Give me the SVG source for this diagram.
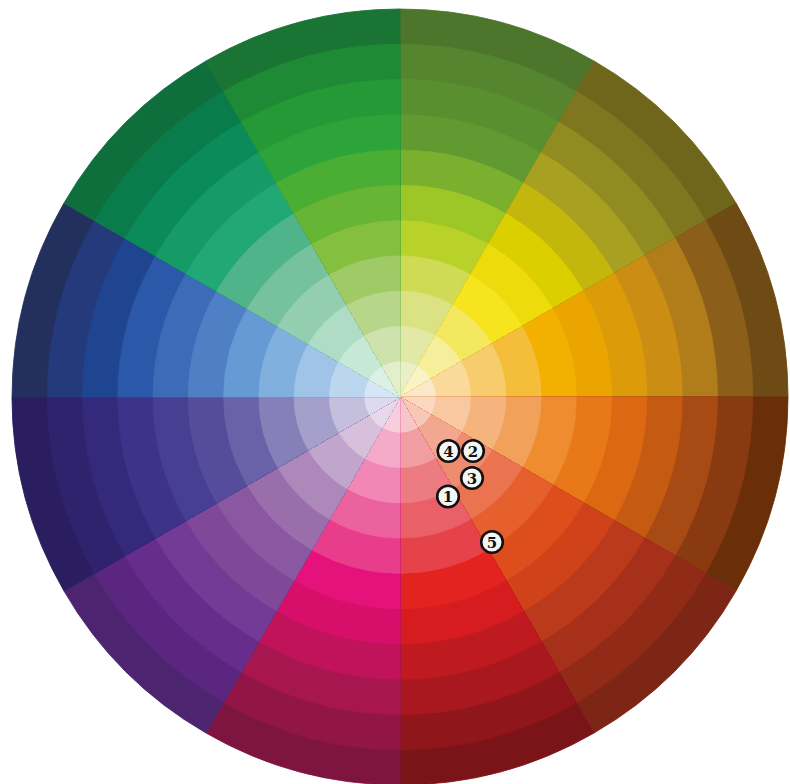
<svg xmlns="http://www.w3.org/2000/svg" xmlns:xlink="http://www.w3.org/1999/xlink" width="790" height="784" viewBox="0 0 790 784">
<style>
.w{fill:currentColor;stroke:currentColor;stroke-width:0.8;stroke-linejoin:round}
.mk circle{fill:#f4f6f4;stroke:#111111;stroke-width:2.6}
.mk text{font-family:"DejaVu Serif","Liberation Serif",serif;font-weight:bold;font-size:15px;fill:#111111;text-anchor:middle;dominant-baseline:central}
</style>
<defs>
<path id="w0" class="w" d="M0 0L0 -35.27A35.27 35.27 0 0 1 17.64 -30.55Z"/>
<path id="w1" class="w" d="M0 0L0 -70.55A70.55 70.55 0 0 1 35.27 -61.10Z"/>
<path id="w2" class="w" d="M0 0L0 -105.82A105.82 105.82 0 0 1 52.91 -91.64Z"/>
<path id="w3" class="w" d="M0 0L0 -141.09A141.09 141.09 0 0 1 70.55 -122.19Z"/>
<path id="w4" class="w" d="M0 0L0 -176.36A176.36 176.36 0 0 1 88.18 -152.74Z"/>
<path id="w5" class="w" d="M0 0L0 -211.64A211.64 211.64 0 0 1 105.82 -183.28Z"/>
<path id="w6" class="w" d="M0 0L0 -246.91A246.91 246.91 0 0 1 123.45 -213.83Z"/>
<path id="w7" class="w" d="M0 0L0 -282.18A282.18 282.18 0 0 1 141.09 -244.38Z"/>
<path id="w8" class="w" d="M0 0L0 -317.45A317.45 317.45 0 0 1 158.73 -274.92Z"/>
<path id="w9" class="w" d="M0 0L0 -352.73A352.73 352.73 0 0 1 176.36 -305.47Z"/>
<path id="w10" class="w" d="M0 0L0 -388A388 388 0 0 1 194 -336.02Z"/>
</defs>
<rect width="790" height="784" fill="#ffffff"/>
<g id="wheel" transform="translate(400,397)">
<g id="s0" transform="rotate(0)">
<use href="#w10" color="#4d752b"/><use href="#w9" color="#55862f"/><use href="#w8" color="#5a8f30"/><use href="#w7" color="#619a30"/><use href="#w6" color="#7bb02e"/><use href="#w5" color="#9cc726"/><use href="#w4" color="#b8d22a"/><use href="#w3" color="#cfdb55"/><use href="#w2" color="#dbe283"/><use href="#w1" color="#e2e8a5"/><use href="#w0" color="#e9efc8"/>
</g>
<g id="s1" transform="rotate(30)">
<use href="#w10" color="#6f661b"/><use href="#w9" color="#7f7620"/><use href="#w8" color="#918b22"/><use href="#w7" color="#a8a020"/><use href="#w6" color="#c3b70e"/><use href="#w5" color="#dccf00"/><use href="#w4" color="#eedb0c"/><use href="#w3" color="#f5e41e"/><use href="#w2" color="#f4e860"/><use href="#w1" color="#f6ee9a"/><use href="#w0" color="#faf3c6"/>
</g>
<g id="s2" transform="rotate(60)">
<use href="#w10" color="#6e4a14"/><use href="#w9" color="#8b5e1a"/><use href="#w8" color="#b07d1a"/><use href="#w7" color="#cc8d14"/><use href="#w6" color="#dc9c0a"/><use href="#w5" color="#eaa500"/><use href="#w4" color="#f2b000"/><use href="#w3" color="#f5be3a"/><use href="#w2" color="#f7cc6c"/><use href="#w1" color="#f9da9a"/><use href="#w0" color="#fbe8c8"/>
</g>
<g id="s3" transform="rotate(90)">
<use href="#w10" color="#6a2e08"/><use href="#w9" color="#8a3a10"/><use href="#w8" color="#a84a14"/><use href="#w7" color="#c55a12"/><use href="#w6" color="#dc6812"/><use href="#w5" color="#e87818"/><use href="#w4" color="#ef8c30"/><use href="#w3" color="#f2a15a"/><use href="#w2" color="#f5b47e"/><use href="#w1" color="#f8c8a0"/><use href="#w0" color="#fad8c2"/>
</g>
<g id="s4" transform="rotate(120)">
<use href="#w10" color="#7d2616"/><use href="#w9" color="#912b17"/><use href="#w8" color="#a6301a"/><use href="#w7" color="#bb3a1c"/><use href="#w6" color="#cf421a"/><use href="#w5" color="#de4e1c"/><use href="#w4" color="#e5602c"/><use href="#w3" color="#ea7450"/><use href="#w2" color="#ee8c70"/><use href="#w1" color="#f2a890"/><use href="#w0" color="#f7c8b8"/>
</g>
<g id="s5" transform="rotate(150)">
<use href="#w10" color="#7a1418"/><use href="#w9" color="#8f161b"/><use href="#w8" color="#a8181e"/><use href="#w7" color="#bf1a20"/><use href="#w6" color="#d61c1f"/><use href="#w5" color="#e3231f"/><use href="#w4" color="#e5424a"/><use href="#w3" color="#e96068"/><use href="#w2" color="#ec7c82"/><use href="#w1" color="#f09ea2"/><use href="#w0" color="#f7c6c8"/>
</g>
<g id="s6" transform="rotate(180)">
<use href="#w10" color="#7e1440"/><use href="#w9" color="#921548"/><use href="#w8" color="#a8164f"/><use href="#w7" color="#c0135a"/><use href="#w6" color="#d60f6a"/><use href="#w5" color="#e4127a"/><use href="#w4" color="#e83d8a"/><use href="#w3" color="#ec629f"/><use href="#w2" color="#f087b4"/><use href="#w1" color="#f4aac9"/><use href="#w0" color="#f8cddd"/>
</g>
<g id="s7" transform="rotate(210)">
<use href="#w10" color="#4c2470"/><use href="#w9" color="#5a2680"/><use href="#w8" color="#672d8c"/><use href="#w7" color="#733a96"/><use href="#w6" color="#7f4898"/><use href="#w5" color="#8a58a0"/><use href="#w4" color="#9a6eab"/><use href="#w3" color="#ad88bb"/><use href="#w2" color="#c2a5cc"/><use href="#w1" color="#d6c0dc"/><use href="#w0" color="#e8d8ec"/>
</g>
<g id="s8" transform="rotate(240)">
<use href="#w10" color="#2a1e60"/><use href="#w9" color="#2f236e"/><use href="#w8" color="#35297c"/><use href="#w7" color="#3d3388"/><use href="#w6" color="#473f92"/><use href="#w5" color="#554d9c"/><use href="#w4" color="#6a62a8"/><use href="#w3" color="#8780b8"/><use href="#w2" color="#a59fcb"/><use href="#w1" color="#c3bfdd"/><use href="#w0" color="#ddd9ee"/>
</g>
<g id="s9" transform="rotate(270)">
<use href="#w10" color="#23305e"/><use href="#w9" color="#253a7a"/><use href="#w8" color="#1f4591"/><use href="#w7" color="#2b58a8"/><use href="#w6" color="#3c6cb8"/><use href="#w5" color="#4f80c6"/><use href="#w4" color="#659ad4"/><use href="#w3" color="#82b0de"/><use href="#w2" color="#9fc4e8"/><use href="#w1" color="#bcd6f0"/><use href="#w0" color="#d6e6f6"/>
</g>
<g id="s10" transform="rotate(300)">
<use href="#w10" color="#0e6e3c"/><use href="#w9" color="#0a7c4c"/><use href="#w8" color="#0b8a5a"/><use href="#w7" color="#169a66"/><use href="#w6" color="#22a874"/><use href="#w5" color="#50b48a"/><use href="#w4" color="#76c29e"/><use href="#w3" color="#93ceb1"/><use href="#w2" color="#aedcc4"/><use href="#w1" color="#c6e8d6"/><use href="#w0" color="#dcf1e6"/>
</g>
<g id="s11" transform="rotate(330)">
<use href="#w10" color="#1a7535"/><use href="#w9" color="#1f8a36"/><use href="#w8" color="#259936"/><use href="#w7" color="#2da43a"/><use href="#w6" color="#4aae34"/><use href="#w5" color="#66b534"/><use href="#w4" color="#84bf40"/><use href="#w3" color="#9fca66"/><use href="#w2" color="#b7d68a"/><use href="#w1" color="#cde2ad"/><use href="#w0" color="#e2eecc"/>
</g>
</g>
<g id="markers" class="mk">
<g id="m4"><circle cx="448.5" cy="451" r="10.8"/><text x="448.5" y="451.5">4</text></g>
<g id="m2"><circle cx="473" cy="451" r="10.8"/><text x="473" y="451.5">2</text></g>
<g id="m3"><circle cx="472" cy="478" r="10.8"/><text x="472" y="478.5">3</text></g>
<g id="m1"><circle cx="448" cy="496.5" r="10.8"/><text x="448" y="497">1</text></g>
<g id="m5"><circle cx="492" cy="542" r="10.8"/><text x="492" y="542.5">5</text></g>
</g>
</svg>
